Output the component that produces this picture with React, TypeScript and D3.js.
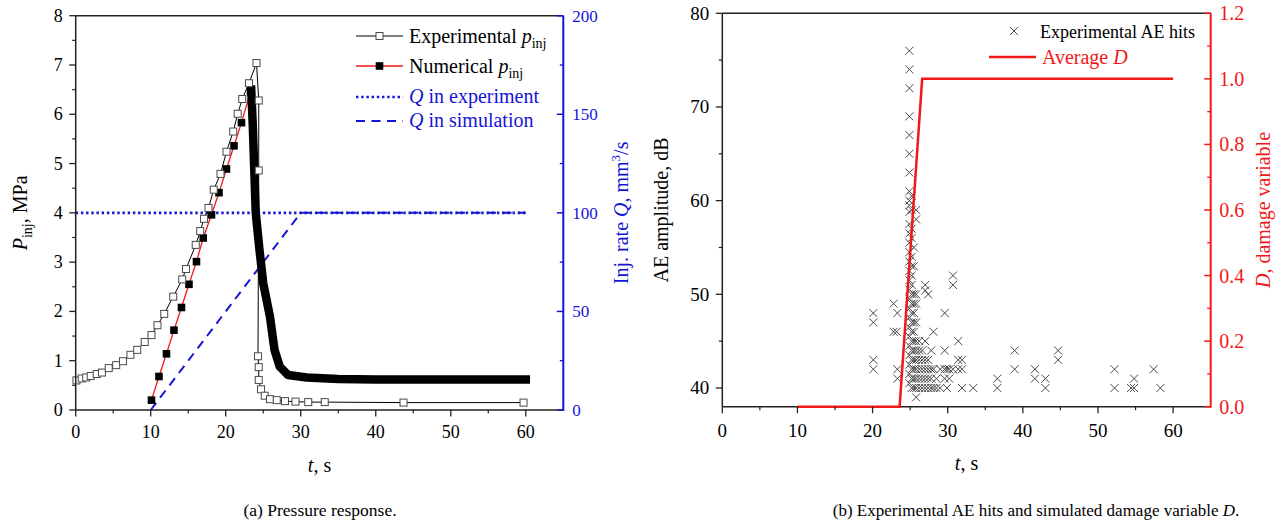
import React from "react";
import * as d3 from "d3";

// ---------- Data: (a) pressure response ----------
const expTime = [0.1, 0.8, 1.4, 2.0, 2.8, 3.5, 4.4, 5.4, 6.3, 7.3, 8.2, 9.2, 10.1, 10.9, 11.8, 13.0, 14.2, 14.7, 16.0, 16.6, 17.1, 17.7, 18.4, 19.3, 20.1, 21.0, 21.6, 22.2, 23.1, 24.1, 24.4, 24.4, 24.3, 24.4, 24.4, 24.7, 25.2, 25.9, 26.8, 27.9, 29.3, 31.0, 33.2, 43.7, 59.7];
const expPressure = [0.6, 0.64, 0.66, 0.69, 0.73, 0.76, 0.85, 0.91, 0.99, 1.12, 1.22, 1.38, 1.52, 1.72, 1.95, 2.30, 2.65, 2.86, 3.35, 3.63, 3.88, 4.10, 4.47, 4.79, 5.24, 5.65, 6.01, 6.31, 6.63, 7.04, 6.28, 4.86, 1.09, 0.87, 0.61, 0.42, 0.29, 0.22, 0.20, 0.18, 0.17, 0.16, 0.16, 0.15, 0.15];

const numTime = [10.1, 11.1, 12.1, 13.1, 14.1, 15.1, 16.1, 17.0, 18.1, 19.1, 20.1, 21.1, 22.1, 23.3];
const numPressure = [0.20, 0.68, 1.14, 1.62, 2.08, 2.55, 3.01, 3.49, 3.96, 4.41, 4.89, 5.36, 5.83, 6.46];

const numPostTime = [23.4, 23.6, 23.8, 24.0, 24.5, 25.0, 25.9, 26.5, 27.2, 28.3, 30.8, 35, 40, 50, 60];
const numPostPressure = [6.5, 5.8, 4.9, 4.0, 3.25, 2.57, 1.89, 1.22, 0.88, 0.71, 0.66, 0.63, 0.62, 0.62, 0.62];

const qExpTime = [0, 60];
const qExpRate = [100, 100];
const qSimTime = [10, 30, 60];
const qSimRate = [0, 100, 100];

const leftYTicks = [0, 1, 2, 3, 4, 5, 6, 7, 8];
const xTicks = [0, 10, 20, 30, 40, 50, 60];
const qTicks = [0, 50, 100, 150, 200];

// ---------- Data: (b) AE hits and damage ----------
const aeTime = [
  20.1, 20.1, 20.1, 20.1,
  22.8, 22.8, 23.2, 23.3, 23.3, 23.3,
  24.9, 24.9, 24.9, 24.9, 24.9, 24.9, 24.9, 24.9, 24.9, 24.9, 24.9, 24.9, 24.9, 24.9, 24.9, 24.9, 24.9, 24.9, 24.9, 24.9, 24.9, 24.9, 24.9, 24.9, 24.9, 24.9, 24.9, 24.9, 24.9,
  25.2, 25.2, 25.2, 25.2, 25.2, 25.2, 25.2, 25.2, 25.2, 25.2, 25.2, 25.2, 25.2, 25.2, 25.2, 25.2, 25.2, 25.2, 25.2,
  25.5, 25.5, 25.5, 25.5, 25.5, 25.5, 25.5, 25.5, 25.5, 25.5, 25.5, 25.5, 25.5,
  25.8, 25.8, 25.8, 25.8, 25.8, 25.8, 25.8, 25.8, 25.8, 25.8, 25.8, 25.8,
  26.2, 26.2, 26.2, 26.2, 26.2, 26.2,
  26.6, 26.6, 26.6, 26.6, 26.6,
  27.0, 27.0, 27.0, 27.0, 27.0, 27.0, 27.0,
  27.4, 27.4, 27.4, 27.4, 27.4,
  27.8, 27.8, 27.8, 27.8,
  28.1, 28.1, 28.1,
  28.5, 28.5,
  29.0, 29.0,
  29.6, 29.6, 29.6, 29.6,
  29.9, 29.9,
  30.2, 30.2,
  30.7, 30.7, 30.7,
  31.4, 31.4, 31.4,
  31.9, 31.9, 31.9,
  33.4,
  36.6, 36.6,
  38.9, 38.9,
  41.6, 41.6,
  43.0, 43.0,
  44.7, 44.7,
  52.2, 52.2,
  54.4, 54.8, 54.8,
  57.4,
  58.3,
];
const aeAmplitude = [
  48, 47, 43, 42,
  49, 46, 46, 48, 42, 41,
  76, 74, 72, 69, 67, 65, 63, 61, 60, 59.5, 58.8, 57.5, 56.5, 55.5, 54.5, 53.5, 52.5, 51.5, 50.5, 49.5, 48.5, 47.5, 46.5, 45.5, 44.5, 43.5, 42.5, 41.5, 40.5,
  60.5, 59, 57, 56, 54, 53, 52, 51, 50, 49, 48, 47, 46, 45, 44, 43, 42, 41, 40,
  55, 53, 50, 49, 48, 47, 46, 45, 44, 43, 42, 41, 40,
  59, 58, 50, 49, 47, 45, 44, 43, 42, 41, 40, 39,
  45, 44, 43, 42, 41, 40,
  44, 43, 42, 41, 40,
  51, 50.4, 45, 43, 42, 41, 40,
  50, 43, 42, 41, 40,
  44, 42, 41, 40,
  46, 42, 40,
  41, 40,
  42, 40,
  48, 44, 42, 41,
  42, 40,
  42, 41,
  52, 51, 42,
  45, 43, 42,
  43, 42, 40,
  40,
  41, 40,
  44, 42,
  42, 41,
  41, 40,
  44, 43,
  42, 40,
  40, 41, 40,
  42,
  40,
];

const dTime = [10, 23.6, 26.6, 60];
const dValue = [0, 0, 1, 1];

const aeTicks = [40, 50, 60, 70, 80];
const dTicks = [0, 0.2, 0.4, 0.6, 0.8, 1.0, 1.2];

const FONT = "Liberation Serif, Tinos, Times New Roman, DejaVu Serif, serif";
const BLUE = "#1414d6";
const RED = "#f01818";
const GRAY = "#4a4a4a";

function LeftChart() {
  const L = 75.7, R = 563.3, T = 15.7, B = 410;
  const x = d3.scaleLinear().domain([0, 65]).range([L, R]);
  const y = d3.scaleLinear().domain([0, 8]).range([B, T]);
  const yq = d3.scaleLinear().domain([0, 200]).range([B, T]);
  const mk = (ts: number[], vs: number[], ys: d3.ScaleLinear<number, number>) =>
    d3.line<number>().x((t) => x(t)).y((_, i) => ys(vs[i]))(ts) || "";

  const expPath = mk(expTime, expPressure, y);
  const numPath = mk(numTime, numPressure, y);
  const postPath = mk(numPostTime, numPostPressure, y);
  const qExpPath = mk(qExpTime, qExpRate, yq);
  const qSimPath = mk(qSimTime, qSimRate, yq);

  const minorY = d3.range(0.5, 8, 1);
  const minorX = d3.range(5, 65, 10);
  const minorQ = d3.range(25, 200, 50);

  const sq = 7;
  return (
    <g>
      <path d={qExpPath} fill="none" stroke={BLUE} strokeWidth={2.6} strokeDasharray="2.4,2.8" />
      <path d={qSimPath} fill="none" stroke={BLUE} strokeWidth={2} strokeDasharray="9,6.5" />
      <path d={numPath} fill="none" stroke={RED} strokeWidth={1.3} />
      {numTime.map((t, i) => (
        <rect key={"n" + i} x={x(t) - 3.8} y={y(numPressure[i]) - 3.8} width={7.6} height={7.6} fill="#000" />
      ))}
      <path d={postPath} fill="none" stroke="#000" strokeWidth={8.5} strokeLinejoin="round" strokeLinecap="square" />
      <path d={expPath} fill="none" stroke="#000" strokeWidth={1} />
      {expTime.map((t, i) => (
        <rect key={"e" + i} x={x(t) - sq / 2} y={y(expPressure[i]) - sq / 2} width={sq} height={sq} fill="#fff" stroke={GRAY} strokeWidth={1} />
      ))}

      <line x1={L} x2={R} y1={T} y2={T} stroke="#222" strokeWidth={1.5} />
      <line x1={L} x2={R} y1={B} y2={B} stroke="#222" strokeWidth={1.5} />
      <line x1={L} x2={L} y1={T} y2={B} stroke="#222" strokeWidth={1.5} />
      <line x1={R} x2={R} y1={T} y2={B + 1} stroke={BLUE} strokeWidth={2} />

      {leftYTicks.map((v) => (
        <g key={"ly" + v}>
          <line x1={L - 6.5} x2={L} y1={y(v)} y2={y(v)} stroke="#222" strokeWidth={1.3} />
          <text x={L - 13} y={y(v) + 6} textAnchor="end" fontSize={18}>{v}</text>
        </g>
      ))}
      {minorY.map((v) => (
        <line key={"lmy" + v} x1={L - 3.5} x2={L} y1={y(v)} y2={y(v)} stroke="#222" strokeWidth={1.2} />
      ))}
      {xTicks.map((v) => (
        <g key={"lx" + v}>
          <line x1={x(v)} x2={x(v)} y1={B} y2={B + 6.5} stroke="#222" strokeWidth={1.3} />
          <text x={x(v)} y={B + 28} textAnchor="middle" fontSize={18}>{v}</text>
        </g>
      ))}
      {minorX.map((v) => (
        <line key={"lmx" + v} x1={x(v)} x2={x(v)} y1={B} y2={B + 3.5} stroke="#222" strokeWidth={1.2} />
      ))}
      {qTicks.map((v) => (
        <g key={"q" + v}>
          <line x1={R - 6.5} x2={R} y1={yq(v)} y2={yq(v)} stroke={BLUE} strokeWidth={1.5} />
          <text x={R + 9} y={yq(v) + 6} textAnchor="start" fontSize={17} fill={BLUE}>{v}</text>
        </g>
      ))}
      {minorQ.map((v) => (
        <line key={"mq" + v} x1={R - 3.5} x2={R} y1={yq(v)} y2={yq(v)} stroke={BLUE} strokeWidth={1.3} />
      ))}

      <text x={(L + R) / 2} y={472} textAnchor="middle" fontSize={20}>
        <tspan fontStyle="italic">t</tspan>, s
      </text>
      <text transform={`translate(27,${(T + B) / 2}) rotate(-90)`} textAnchor="middle" fontSize={20}>
        <tspan fontStyle="italic">P</tspan>
        <tspan fontSize={14} dy={5}>inj</tspan>
        <tspan dy={-5}>, MPa</tspan>
      </text>
      <text transform={`translate(628,${(T + B) / 2}) rotate(-90)`} textAnchor="middle" fontSize={20} fill={BLUE}>
        Inj. rate <tspan fontStyle="italic">Q</tspan>, mm<tspan fontSize={13} dy={-8}>3</tspan><tspan dy={8}>/s</tspan>
      </text>

      <g>
        <line x1={356} x2={403} y1={36} y2={36} stroke="#000" strokeWidth={1} />
        <rect x={379.5 - 3.5} y={32.5} width={7} height={7} fill="#fff" stroke={GRAY} />
        <text x={409} y={43} fontSize={20}>
          Experimental <tspan fontStyle="italic">p</tspan><tspan fontSize={14} dy={5}>inj</tspan>
        </text>
        <line x1={356} x2={403} y1={66} y2={66} stroke={RED} strokeWidth={1.3} />
        <rect x={379.5 - 3.8} y={62.2} width={7.6} height={7.6} fill="#000" />
        <text x={409} y={73} fontSize={20}>
          Numerical <tspan fontStyle="italic">p</tspan><tspan fontSize={14} dy={5}>inj</tspan>
        </text>
        <line x1={356} x2={403} y1={97} y2={97} stroke={BLUE} strokeWidth={2.6} strokeDasharray="2.4,2.8" />
        <text x={409} y={103} fontSize={20} fill={BLUE}>
          <tspan fontStyle="italic">Q</tspan> in experiment
        </text>
        <line x1={356} x2={403} y1={121} y2={121} stroke={BLUE} strokeWidth={2} strokeDasharray="9,6.5" />
        <text x={409} y={127} fontSize={20} fill={BLUE}>
          <tspan fontStyle="italic">Q</tspan> in simulation
        </text>
      </g>
    </g>
  );
}

function RightChart() {
  const L = 722.3, R = 1210.7, T = 13.3, B = 406.7;
  const x = d3.scaleLinear().domain([0, 65]).range([L, R]);
  const y = d3.scaleLinear().domain([38, 80]).range([B, T]);
  const yd = d3.scaleLinear().domain([0, 1.2]).range([B, T]);
  const dPath = d3.line<number>().x((t) => x(t)).y((_, i) => yd(dValue[i]))(dTime) || "";
  const minorX = d3.range(5, 65, 10);
  const minorY = [45, 55, 65, 75];
  const minorD = d3.range(0.1, 1.2, 0.2);
  const s = 4;
  const cross = (cx: number, cy: number) => `M${cx - s},${cy - s}L${cx + s},${cy + s}M${cx - s},${cy + s}L${cx + s},${cy - s}`;

  return (
    <g>
      {aeTime.map((t, i) => (
        <path key={"ae" + i} d={cross(x(t), y(aeAmplitude[i]))} stroke={GRAY} strokeWidth={1} fill="none" />
      ))}
      <line x1={L} x2={R} y1={T} y2={T} stroke="#222" strokeWidth={1.5} />
      <line x1={L} x2={R} y1={B} y2={B} stroke="#222" strokeWidth={1.5} />
      <line x1={L} x2={L} y1={T} y2={B} stroke="#222" strokeWidth={1.5} />
      <path d={dPath} fill="none" stroke={RED} strokeWidth={2.5} />
      <line x1={R} x2={R} y1={T} y2={B + 1} stroke={RED} strokeWidth={2} />

      {aeTicks.map((v) => (
        <g key={"ay" + v}>
          <line x1={L - 6.5} x2={L} y1={y(v)} y2={y(v)} stroke="#222" strokeWidth={1.3} />
          <text x={L - 13} y={y(v) + 6.5} textAnchor="end" fontSize={19}>{v}</text>
        </g>
      ))}
      {minorY.map((v) => (
        <line key={"amy" + v} x1={L - 3.5} x2={L} y1={y(v)} y2={y(v)} stroke="#222" strokeWidth={1.2} />
      ))}
      {xTicks.map((v) => (
        <g key={"bx" + v}>
          <line x1={x(v)} x2={x(v)} y1={B} y2={B + 6.5} stroke="#222" strokeWidth={1.3} />
          <text x={x(v)} y={B + 30} textAnchor="middle" fontSize={19}>{v}</text>
        </g>
      ))}
      {minorX.map((v) => (
        <line key={"bmx" + v} x1={x(v)} x2={x(v)} y1={B} y2={B + 3.5} stroke="#222" strokeWidth={1.2} />
      ))}
      {dTicks.map((v) => (
        <g key={"d" + v}>
          <line x1={R - 6.5} x2={R} y1={yd(v)} y2={yd(v)} stroke={RED} strokeWidth={1.5} />
          <text x={R + 8.5} y={yd(v) + 7} textAnchor="start" fontSize={20} fill={RED}>{v.toFixed(1)}</text>
        </g>
      ))}
      {minorD.map((v) => (
        <line key={"md" + v} x1={R - 3.5} x2={R} y1={yd(v)} y2={yd(v)} stroke={RED} strokeWidth={1.3} />
      ))}

      <text x={(L + R) / 2} y={470} textAnchor="middle" fontSize={20}>
        <tspan fontStyle="italic">t</tspan>, s
      </text>
      <text transform={`translate(668,${(T + B) / 2}) rotate(-90)`} textAnchor="middle" fontSize={20}>
        AE amplitude, dB
      </text>
      <text transform={`translate(1270,${(T + B) / 2}) rotate(-90)`} textAnchor="middle" fontSize={20} fill={RED}>
        <tspan fontStyle="italic">D</tspan>, damage variable
      </text>

      <path d={cross(1014, 31)} stroke={GRAY} strokeWidth={1} fill="none" />
      <text x={1040} y={37.5} fontSize={18}>Experimental AE hits</text>
      <line x1={989} x2={1036} y1={57} y2={57} stroke={RED} strokeWidth={2.5} />
      <text x={1042} y={64} fontSize={20} fill={RED}>
        Average <tspan fontStyle="italic">D</tspan>
      </text>
    </g>
  );
}

export default function App() {
  return (
    <svg width={1279} height={523} viewBox="0 0 1279 523" style={{ position: "absolute", left: 0, top: 0, background: "#fff", fontFamily: FONT }}>
      <rect x={0} y={0} width={1279} height={523} fill="#fff" />
      <LeftChart />
      <RightChart />
      <text x={320} y={516} textAnchor="middle" fontSize={17.5}>(a) Pressure response.</text>
      <text x={1036} y={516} textAnchor="middle" fontSize={17}>
        (b) Experimental AE hits and simulated damage variable <tspan fontStyle="italic">D</tspan>.
      </text>
    </svg>
  );
}
